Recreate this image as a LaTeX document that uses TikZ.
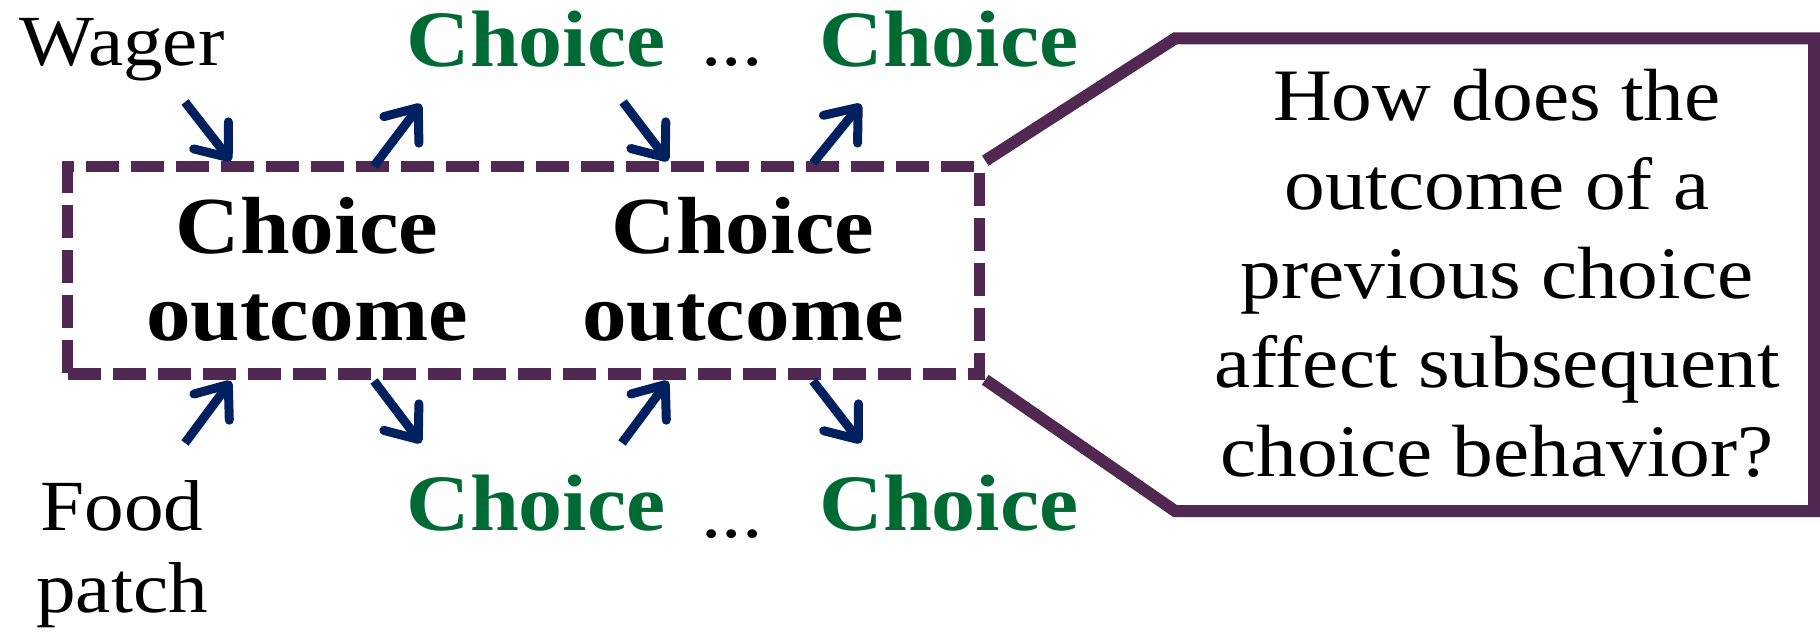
\documentclass[tikz,border=0pt]{standalone}
\usepackage{fontspec}
\setmainfont{Liberation Serif}[FakeStretch=1.1]
\usetikzlibrary{arrows.meta}
\definecolor{frameP}{HTML}{502852}
\definecolor{choiceG}{HTML}{006A34}
\definecolor{arrowN}{HTML}{002060}
\tikzset{
  lbl/.style={inner sep=0pt, anchor=base, font=\fontsize{72}{82}\selectfont, align=center},
  greenlbl/.style={inner sep=0pt, anchor=base, text=choiceG, font=\fontsize{80}{88}\selectfont\bfseries},
  dotslbl/.style={inner sep=0pt, anchor=base, font=\fontsize{74}{88}\selectfont},
  inner/.style={inner sep=0pt, anchor=north, align=center, font=\fontsize{81}{87}\selectfont\bfseries},
  frame/.style={draw=frameP, line width=11.5pt, dash pattern=on 33pt off 12pt, minimum width=912pt, minimum height=207.5pt, inner sep=0pt},
  callout/.style={draw=frameP, line width=12pt, line join=miter},
  arr/.style={draw=arrowN, line width=9pt, -{Straight Barb[length=28pt,width=44pt,round]}},
  question/.style={inner sep=0pt, anchor=north, align=center, font=\fontsize{74}{89}\selectfont}
}
\begin{document}
\begin{tikzpicture}[x=1pt,y=-1pt]
\useasboundingbox (0,0) rectangle (1820,639);
% frame
\node[frame] (fr) at (523.5,270.25) {};
% callout
\coordinate (c1) at (1175,38.5);
\coordinate (c2) at (1814,38.5);
\coordinate (c3) at (1814,511);
\coordinate (c4) at (1175,511);
\draw[callout] (fr.north east) -- (c1) -- (c2) -- (c3) -- (c4) -- (fr.south east);
\node[question] (q) at (1497,69) {How does the\\outcome of a\\previous choice\\affect subsequent\\choice behavior?};
% inner texts
\node[inner] (o1) at (307,197) {Choice\\outcome};
\node[inner] (o2) at (743,197) {Choice\\outcome};
% labels
\node[lbl] (wager) at (122,66) {Wager};
\node[lbl] (food) at (122,612) {Food\\patch};
\node[greenlbl] (t1) at (536,67) {Choice};
\node[greenlbl] (t2) at (949,67) {Choice};
\node[greenlbl] (b1) at (536,530) {Choice};
\node[greenlbl] (b2) at (949,530) {Choice};
\node[dotslbl] (td) at (732,66) {...};
\node[dotslbl] (bd) at (732,537) {...};
% arrows
\coordinate (a1s) at (185,102); \coordinate (a1e) at (231,161);
\coordinate (a2s) at (374,166); \coordinate (a2e) at (421,104);
\coordinate (a3s) at (623,102); \coordinate (a3e) at (668,161);
\coordinate (a4s) at (813,163); \coordinate (a4e) at (861,104);
\coordinate (a5s) at (185,443); \coordinate (a5e) at (231,381);
\coordinate (a6s) at (374,381); \coordinate (a6e) at (421,443);
\coordinate (a7s) at (622,443); \coordinate (a7e) at (668,381);
\coordinate (a8s) at (813,381); \coordinate (a8e) at (861,443);
\draw[arr] (a1s) -- (a1e);
\draw[arr] (a2s) -- (a2e);
\draw[arr] (a3s) -- (a3e);
\draw[arr] (a4s) -- (a4e);
\draw[arr] (a5s) -- (a5e);
\draw[arr] (a6s) -- (a6e);
\draw[arr] (a7s) -- (a7e);
\draw[arr] (a8s) -- (a8e);
\end{tikzpicture}
\end{document}
